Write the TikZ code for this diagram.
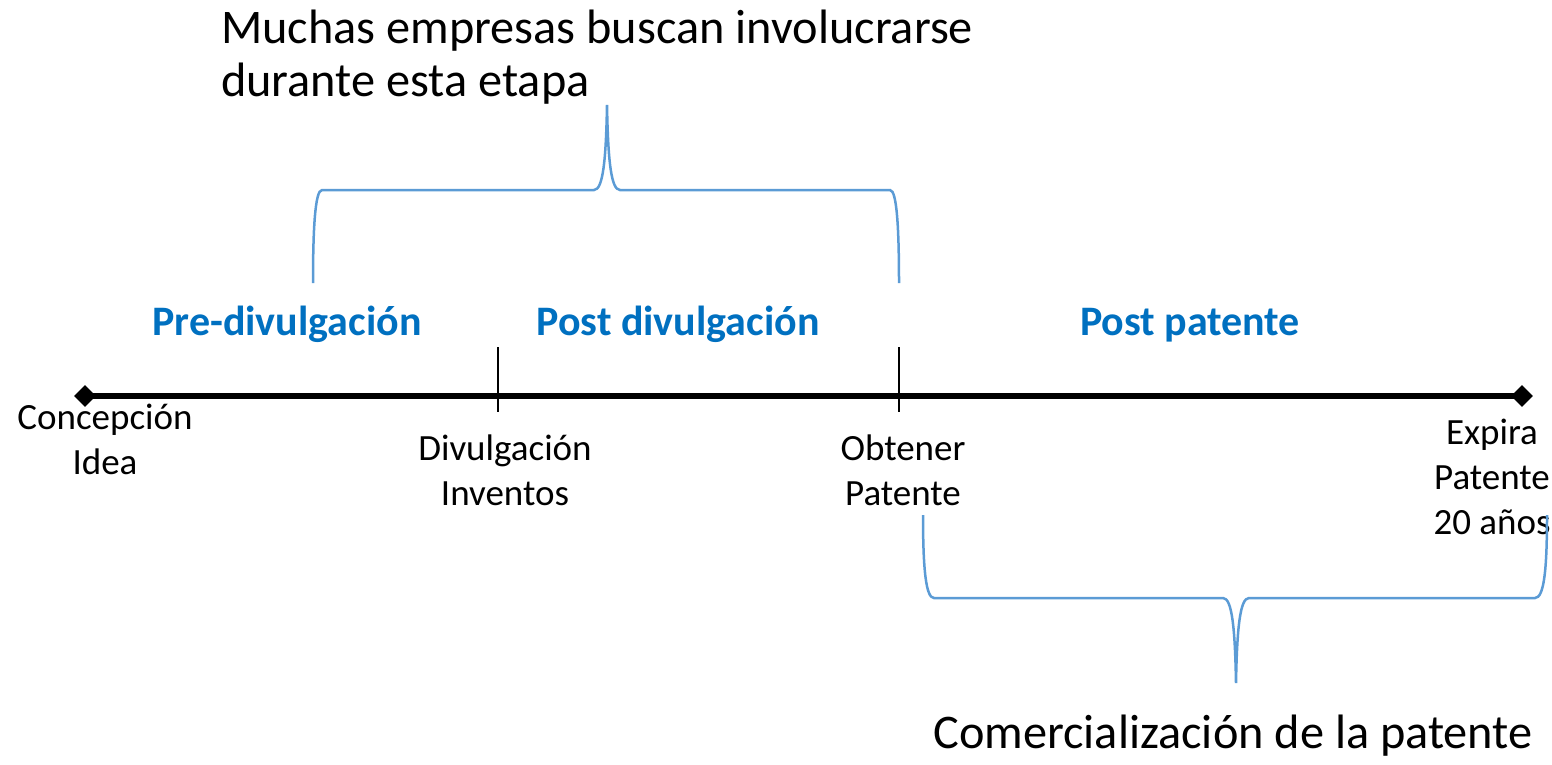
\documentclass[tikz,border=0pt]{standalone}
\usepackage{fontspec}
\setmainfont{Carlito}
\usetikzlibrary{shapes.geometric}
\definecolor{bracecol}{HTML}{5B9BD5}
\definecolor{phasecol}{HTML}{0070C0}
\begin{document}
\begin{tikzpicture}[x=1pt,y=-1pt,
  phase/.style={font=\fontsize{42}{50}\selectfont\bfseries, text=phasecol, inner sep=0pt, anchor=base},
  event/.style={font=\fontsize{37}{45}\selectfont, align=center, inner sep=0pt},
  note/.style={font=\fontsize{48.3}{53}\selectfont, inner sep=0pt},
  brace/.style={draw=bracecol, line width=2.5pt},
  endpt/.style={diamond, fill=black, inner sep=0pt, minimum width=22pt, minimum height=22pt},
  tick/.style={line width=1.5pt}]
\useasboundingbox (0,0) rectangle (1552,765);

% timeline
\node[endpt] (dL) at (85,396) {};
\node[endpt] (dR) at (1522,396) {};
\draw[line width=6pt] (dL.center) -- (dR.center);
\coordinate (t1a) at (498,347); \coordinate (t1b) at (498,412);
\coordinate (t2a) at (899,347); \coordinate (t2b) at (899,412);
\draw[tick] (t1a) -- (t1b);
\draw[tick] (t2a) -- (t2b);

% phase labels
\node[phase] (pre) at (287,335) {Pre-divulgación};
\node[phase] (postd) at (678,335) {Post divulgación};
\node[phase] (postp) at (1190,335) {Post patente};

% event labels
\node[event] (concep) at (105,439) {Concepción\\Idea};
\node[event] (divul) at (505,470) {Divulgación\\Inventos};
\node[event] (obt) at (903,470) {Obtener\\Patente};
\node[event] (expira) at (1492,477) {Expira\\Patente\\20 años};

% top brace
\coordinate (bA) at (313,283);
\coordinate (bB) at (322,190);
\coordinate (bC) at (594,190);
\coordinate (bT) at (607,105);
\coordinate (bD) at (620,190);
\coordinate (bE) at (890,190);
\coordinate (bF) at (899,283);
\draw[brace] (bA) .. controls (313,230) and (315,190) .. (bB) -- (bC)
  .. controls (603,190) and (606,160) .. (bT)
  .. controls (608,160) and (611,190) .. (bD) -- (bE)
  .. controls (897,190) and (899,230) .. (bF);

% bottom brace
\coordinate (cA) at (923,515);
\coordinate (cB) at (934,598);
\coordinate (cC) at (1223,598);
\coordinate (cT) at (1236,683);
\coordinate (cD) at (1249,598);
\coordinate (cE) at (1535,598);
\coordinate (cF) at (1547,515);
\draw[brace] (cA) .. controls (923,570) and (926,598) .. (cB) -- (cC)
  .. controls (1232,598) and (1235,628) .. (cT)
  .. controls (1237,628) and (1240,598) .. (cD) -- (cE)
  .. controls (1544,598) and (1547,570) .. (cF);

% notes
\node[note, align=left, anchor=west] (top) at (221,57) {Muchas empresas buscan involucrarse\\durante esta etapa};
\node[note, anchor=base] (bot) at (1233,748) {Comercialización de la patente};
\end{tikzpicture}
\end{document}
